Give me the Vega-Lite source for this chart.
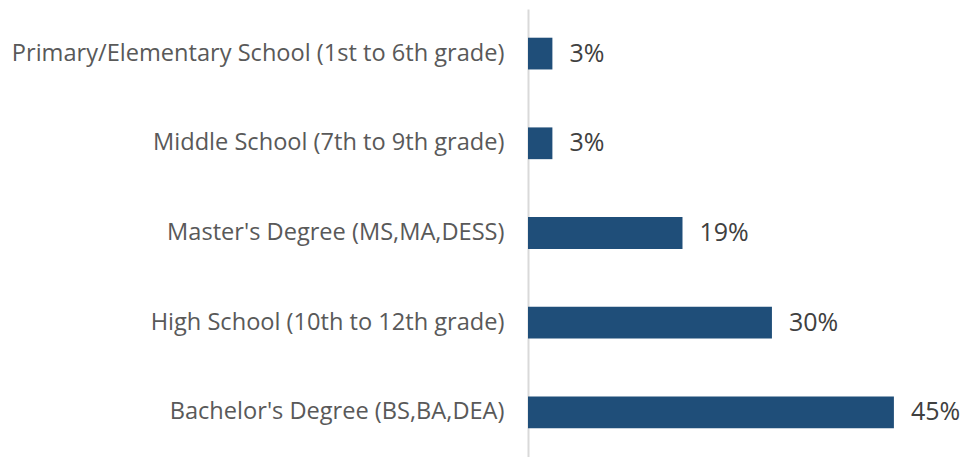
{
  "$schema": "https://vega.github.io/schema/vega-lite/v6.json",
  "autosize": {"type": "none"},
  "padding": {"left": 528, "top": 9, "right": 0, "bottom": 0},
  "width": 446,
  "height": 448,
  "background": "white",
  "data": {"values": [
    {"level": "Primary/Elementary School (1st to 6th grade)", "share": 0.03},
    {"level": "Middle School (7th to 9th grade)", "share": 0.03},
    {"level": "Master's Degree (MS,MA,DESS)", "share": 0.19},
    {"level": "High School (10th to 12th grade)", "share": 0.30},
    {"level": "Bachelor's Degree (BS,BA,DEA)", "share": 0.45}
  ]},
  "encoding": {
    "y": {"field": "level", "type": "nominal", "sort": null,
      "scale": {"paddingInner": 0.646, "paddingOuter": 0.32},
      "axis": {"title": null, "ticks": false, "domainColor": "#D9D9D9", "domainWidth": 2,
        "labelFont": "Open Sans", "labelFontSize": 23.6, "labelColor": "#595959",
        "labelPadding": 24, "labelLimit": 600}},
    "x": {"field": "share", "type": "quantitative",
      "scale": {"domain": [0, 0.5485], "nice": false},
      "axis": null}
  },
  "layer": [
    {"mark": {"type": "bar", "color": "#1F4E79"}},
    {"mark": {"type": "text", "align": "left", "baseline": "middle", "dx": 17,
      "font": "Open Sans", "fontSize": 25, "color": "#404040"},
     "encoding": {"text": {"field": "share", "type": "quantitative", "format": ".0%"}}}
  ],
  "config": {"view": {"stroke": null}}
}
